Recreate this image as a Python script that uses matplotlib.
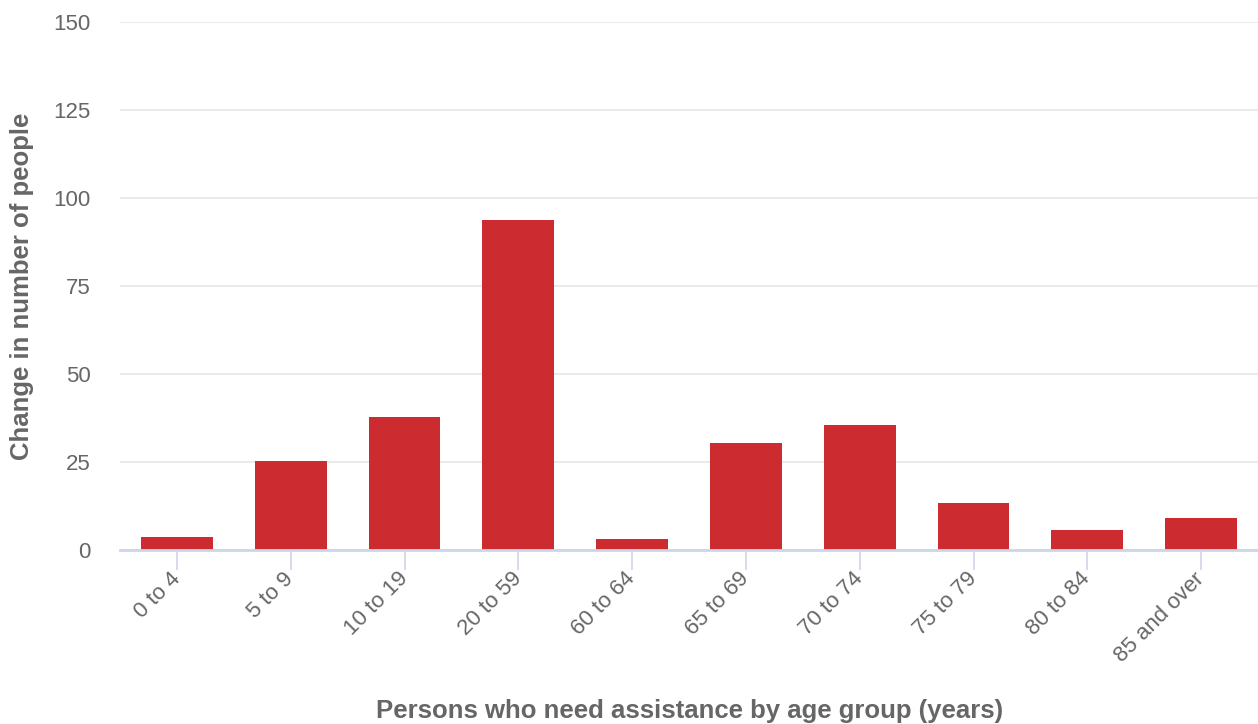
import numpy as np
from matplotlib import pyplot as plt

plt.rcParams['font.family'] = ['Liberation Sans', 'DejaVu Sans']

groups = ['0 to 4', '5 to 9', '10 to 19', '20 to 59', '60 to 64',
          '65 to 69', '70 to 74', '75 to 79', '80 to 84', '85 and over']
change = [3.7, 25.2, 37.7, 93.8, 3.0, 30.4, 35.5, 13.3, 5.6, 9.1]

fig = plt.figure(figsize=(12.58, 7.24), dpi=100)
ax = fig.add_axes([120 / 1258, (724 - 550) / 724, 1138 / 1258, 528 / 724])

x = np.arange(len(groups))
ax.bar(x, change, width=0.63, color='#cc2b30', zorder=3)

ax.set_xlim(-0.5, len(groups) - 0.5)
ax.set_ylim(0, 150)
ax.set_yticks(range(0, 151, 25))
ax.yaxis.grid(True, color='#e6e6e6', linewidth=1.2)
ax.set_axisbelow(True)

for s in ['top', 'right', 'left']:
    ax.spines[s].set_visible(False)
ax.spines['bottom'].set_color('#ccd6eb')
ax.spines['bottom'].set_linewidth(2)
ax.spines['bottom'].set_zorder(4)

ax.set_xticks(x)
ax.set_xticklabels(groups, rotation=45, ha='right', va='center', rotation_mode='anchor')
ax.tick_params(axis='x', length=14.5, width=1.2, color='#ccd6eb', pad=4,
               labelsize=16, labelcolor='#666666')
ax.tick_params(axis='y', length=0, pad=21, labelsize=16, labelcolor='#666666')

ax.set_ylabel('Change in number of people', fontsize=18.5, fontweight='bold',
              color='#666666')
ax.yaxis.set_label_coords(-(120 - 22) / 1138, (550 - 286) / 528)
ax.yaxis.label.set_va('center')
ax.set_xlabel('Persons who need assistance by age group (years)', fontsize=18.5,
              fontweight='bold', color='#666666')
ax.xaxis.set_label_coords((690 - 120) / 1138, -(711 - 550) / 528)
ax.xaxis.label.set_va('center')

plt.savefig('out.png', dpi=100)
